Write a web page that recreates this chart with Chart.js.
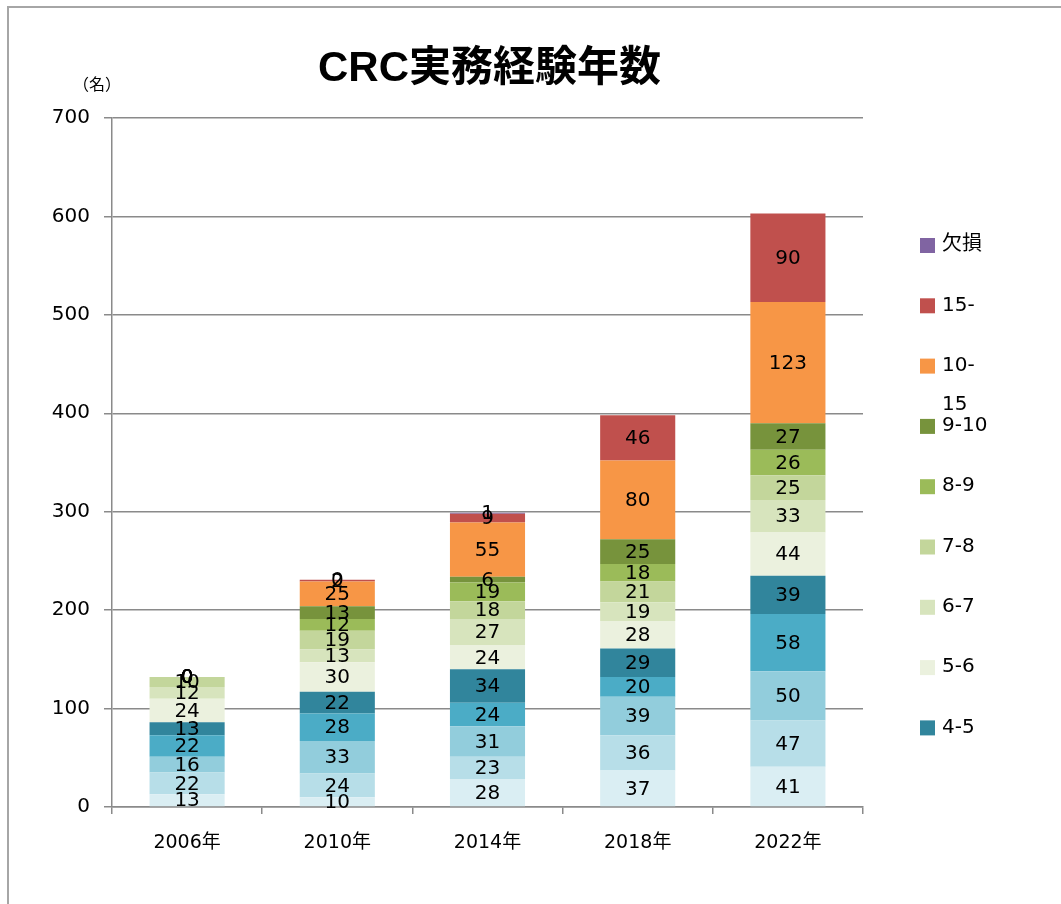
<!DOCTYPE html>
<html>
<head>
<meta charset="utf-8">
<script src="https://cdn.jsdelivr.net/npm/chart.js@4"></script>
<style>
  html, body { margin: 0; padding: 0; background: #fff; overflow: hidden; }
  #wrap { width: 1061px; height: 904px; position: relative; }
</style>
</head>
<body>
<div id="wrap"><canvas id="chart" width="1061" height="904"></canvas></div>
<script>
const categories = ["2006年", "2010年", "2014年", "2018年", "2022年"];
const seriesNames = ["0-1", "1-2", "2-3", "3-4", "4-5", "5-6", "6-7", "7-8", "8-9", "9-10", "10-15", "15-", "欠損"];

// values per experience band, bottom of the stack first
const y0_1   = [13, 10, 28, 37, 41];
const y1_2   = [22, 24, 23, 36, 47];
const y2_3   = [16, 33, 31, 39, 50];
const y3_4   = [22, 28, 24, 20, 58];
const y4_5   = [13, 22, 34, 29, 39];
const y5_6   = [24, 30, 24, 28, 44];
const y6_7   = [12, 13, 27, 19, 33];
const y7_8   = [10, 19, 18, 21, 25];
const y8_9   = [0, 12, 19, 18, 26];
const y9_10  = [0, 13, 6, 25, 27];
const y10_15 = [0, 25, 55, 80, 123];
const y15up  = [0, 2, 9, 46, 90];
const yMiss  = [0, 0, 1, null, null];

const yTicks = [0, 100, 200, 300, 400, 500, 600, 700];

const seriesValues = [y0_1, y1_2, y2_3, y3_4, y4_5, y5_6, y6_7, y7_8, y8_9, y9_10, y10_15, y15up, yMiss];
const colors = ["#DAEEF3", "#B7DEE8", "#92CDDC", "#4BACC6", "#31859C", "#EBF1DE", "#D7E4BD",
                "#C3D69B", "#9BBB59", "#77933C", "#F79646", "#C0504D", "#8064A2"];

const FONT = "'DejaVu Sans', Verdana, 'Noto Sans CJK JP', sans-serif";
const GRID = "#8a8a8a";

const datasets = seriesNames.map((name, i) => ({
  label: name,
  data: seriesValues[i],
  backgroundColor: colors[i],
  borderWidth: 0,
  barPercentage: 0.5,
  categoryPercentage: 1.0
}));

// frame, title, axis unit, value labels and the right-hand legend
const decor = {
  id: "decor",
  beforeDraw(chart) {
    const ctx = chart.ctx;
    ctx.save();
    ctx.fillStyle = "#fff";
    ctx.fillRect(0, 0, chart.width, chart.height);
    ctx.strokeStyle = "#a6a6a6";
    ctx.lineWidth = 2;
    ctx.strokeRect(8, 7, 2000, 2000);
    ctx.restore();
  },
  afterDatasetsDraw(chart) {
    const ctx = chart.ctx;
    const area = chart.chartArea;
    ctx.save();
    ctx.fillStyle = "#000";
    ctx.textAlign = "center";
    ctx.textBaseline = "middle";
    ctx.font = "20px " + FONT;
    chart.data.datasets.forEach((ds, di) => {
      const meta = chart.getDatasetMeta(di);
      meta.data.forEach((bar, j) => {
        const v = ds.data[j];
        if (v === null || v === undefined) return;
        ctx.fillText(String(v), bar.x, (bar.y + bar.base) / 2 + 1);
      });
    });

    // title
    ctx.font = "bold 42px 'Liberation Sans', 'Noto Sans CJK JP', sans-serif";
    ctx.fillText("CRC実務経験年数", (area.left + area.right) / 2 + 2, area.top - 49);

    // unit
    ctx.font = "16px 'Noto Sans CJK JP', " + FONT;
    ctx.fillText("（名）", area.left - 15, area.top - 34);

    // legend, reversed, clipped like the original
    ctx.textAlign = "left";
    ctx.font = "20px " + FONT;
    const lx = area.right + 57;
    let ly = area.top + 127;
    const step = 60.3;
    for (let i = chart.data.datasets.length - 1; i >= 4; i--) {
      const ds = chart.data.datasets[i];
      ctx.fillStyle = ds.backgroundColor;
      ctx.fillRect(lx, ly - 7, 15, 15);
      ctx.fillStyle = "#000";
      let text = ds.label;
      if (ctx.measureText(text).width > 52 && text.indexOf("-") > 0) {
        const k = text.indexOf("-") + 1;
        ctx.fillText(text.slice(0, k), lx + 22, ly);
        ctx.fillText(text.slice(k), lx + 22, ly + 39);
      } else {
        ctx.fillText(text, lx + 22, ly);
      }
      ly += step;
    }
    ctx.restore();
  }
};

new Chart(document.getElementById("chart"), {
  type: "bar",
  data: { labels: categories, datasets: datasets },
  options: {
    responsive: false,
    animation: false,
    layout: { padding: { left: 0, right: 198, top: 118, bottom: 0 } },
    plugins: {
      legend: { display: false },
      title: { display: false },
      tooltip: { enabled: false }
    },
    scales: {
      x: {
        stacked: true,
        grid: {
          offset: true,
          drawOnChartArea: false,
          drawTicks: true,
          tickLength: 7,
          color: GRID,
          lineWidth: 1.5
        },
        border: { color: GRID, width: 1.5 },
        ticks: { color: "#000", font: { family: FONT, size: 19 }, padding: 18 },
        afterFit(s) { s.height = 97; }
      },
      y: {
        stacked: true,
        min: 0,
        max: 700,
        afterBuildTicks(s) { s.ticks = yTicks.map(v => ({ value: v })); },
        grid: { color: GRID, lineWidth: 1.5, tickLength: 8 },
        border: { color: GRID, width: 1.5 },
        ticks: { color: "#000", font: { family: FONT, size: 20 }, padding: 14 },
        afterFit(s) { s.width = 112; }
      }
    }
  },
  plugins: [decor]
});
</script>
</body>
</html>
